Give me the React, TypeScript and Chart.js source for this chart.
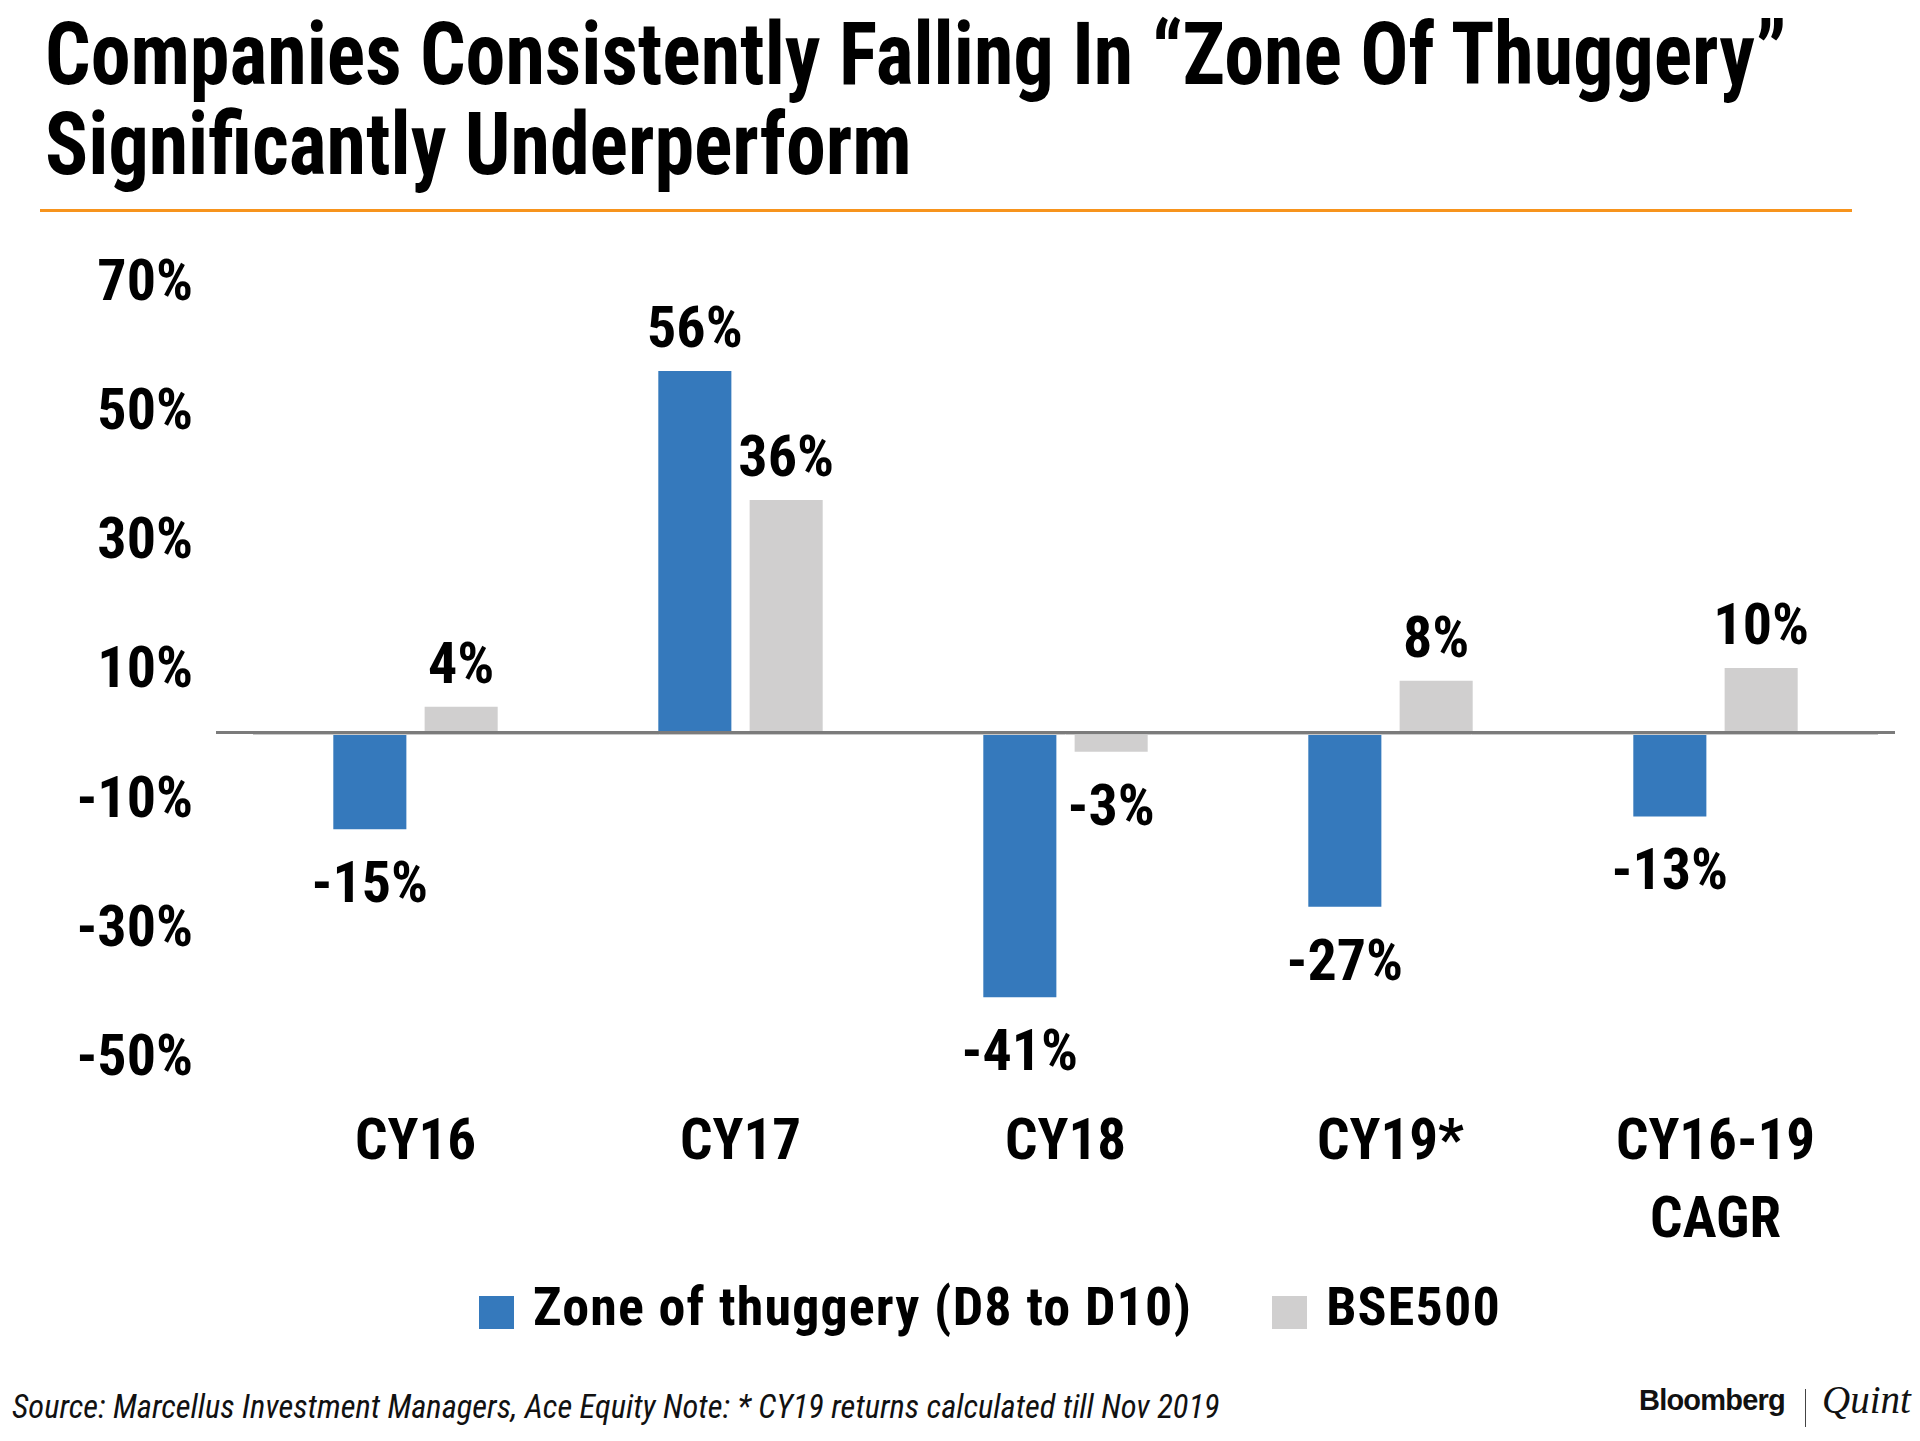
import React, { useEffect, useRef } from "react";
import { Chart, registerables } from "chart.js";

Chart.register(...registerables);

const titleLines = [
  "Companies Consistently Falling In \u201cZone Of Thuggery\u201d",
  "Significantly Underperform",
];
const categories: (string | string[])[] = ["CY16", "CY17", "CY18", "CY19*", ["CY16-19", "CAGR"]];
const seriesNames = ["Zone of thuggery (D8 to D10)", "BSE500"];
const zoneValues = [-15, 56, -41, -27, -13];
const bseValues = [4, 36, -3, 8, 10];
const yTickValues = [-50, -30, -10, 10, 30, 50, 70];
const seriesColors = ["#3579BC", "#D0CFCF"];
const sourceText =
  "Source: Marcellus Investment Managers, Ace Equity Note: * CY19 returns calculated till Nov 2019";

const FONT = "'Roboto Condensed', 'Roboto', sans-serif";

const zeroLinePlugin = {
  id: "zeroLine",
  afterDatasetsDraw(chart: any) {
    const { ctx, chartArea, scales } = chart;
    const y0 = scales.y.getPixelForValue(0);
    ctx.save();
    ctx.strokeStyle = "#c9c9c9";
    ctx.lineWidth = 1;
    ctx.beginPath();
    ctx.moveTo(chartArea.left, y0 + 2);
    ctx.lineTo(chartArea.right, y0 + 2);
    ctx.stroke();
    ctx.strokeStyle = "#7b7b7b";
    ctx.lineWidth = 3;
    ctx.beginPath();
    ctx.moveTo(chartArea.left - 37, y0);
    ctx.lineTo(chartArea.right + 17, y0);
    ctx.stroke();
    ctx.restore();
  },
};

const valueLabelPlugin = {
  id: "valueLabels",
  afterDatasetsDraw(chart: any) {
    const { ctx } = chart;
    ctx.save();
    ctx.font = `bold 58px ${FONT}`;
    ctx.fillStyle = "#000";
    ctx.textAlign = "center";
    ctx.textBaseline = "alphabetic";
    chart.data.datasets.forEach((ds: any, di: number) => {
      const meta = chart.getDatasetMeta(di);
      meta.data.forEach((bar: any, i: number) => {
        const v = ds.data[i];
        const text = `${v}%`;
        if (v >= 0) ctx.fillText(text, bar.x, bar.y - 24);
        else ctx.fillText(text, bar.x, bar.y + 73);
      });
    });
    ctx.restore();
  },
};

function zeroPadding(scale: any) {
  scale.paddingTop = 0;
  scale.paddingBottom = 0;
  scale.paddingLeft = 0;
  scale.paddingRight = 0;
}

export default function App() {
  const canvasRef = useRef<HTMLCanvasElement>(null);

  useEffect(() => {
    if (!canvasRef.current) return;
    const chart = new Chart(canvasRef.current, {
      type: "bar",
      data: {
        labels: categories,
        datasets: [
          {
            label: seriesNames[0],
            data: zoneValues,
            backgroundColor: seriesColors[0],
            categoryPercentage: 0.562,
            barPercentage: 0.8,
          },
          {
            label: seriesNames[1],
            data: bseValues,
            backgroundColor: seriesColors[1],
            categoryPercentage: 0.562,
            barPercentage: 0.8,
          },
        ],
      },
      options: {
        animation: false,
        responsive: true,
        maintainAspectRatio: false,
        layout: { padding: { top: 50.65, right: 42, left: 0, bottom: 0 } },
        plugins: {
          legend: { display: false },
          tooltip: { enabled: false },
          title: { display: false },
        },
        scales: {
          x: {
            grid: { display: false, drawTicks: false },
            border: { display: false },
            ticks: {
              padding: 50,
              color: "#000",
              font: { family: FONT, weight: "bold", size: 57, lineHeight: 1.38 },
              maxRotation: 0,
              autoSkip: false,
            },
            afterFit(scale: any) {
              scale.height = 204.75;
              zeroPadding(scale);
            },
          },
          y: {
            min: -50,
            max: 70,
            grid: { display: false, drawTicks: false },
            border: { display: false },
            afterBuildTicks(scale: any) {
              scale.ticks = yTickValues.map((v) => ({ value: v }));
            },
            ticks: {
              padding: 60,
              labelOffset: 5,
              color: "#000",
              font: { family: FONT, weight: "bold", size: 58 },
              callback: (v: any) => `${v}%`,
            },
            afterFit(scale: any) {
              scale.width = 253;
              zeroPadding(scale);
            },
          },
        },
      },
      plugins: [zeroLinePlugin, valueLabelPlugin],
    });
    return () => chart.destroy();
  }, []);

  return (
    <div
      style={{
        position: "absolute",
        left: 0,
        top: 0,
        width: 1920,
        height: 1441,
        background: "#fff",
        overflow: "hidden",
        fontFamily: FONT,
        color: "#000",
      }}
    >
      {titleLines.map((line, i) => (
        <div
          key={i}
          style={{
            position: "absolute",
            left: 45,
            top: 10 + i * 90,
            fontSize: 88,
            lineHeight: "88px",
            fontWeight: 700,
            whiteSpace: "nowrap",
            transform: "scaleX(0.91)",
            transformOrigin: "left top",
          }}
        >
          {line}
        </div>
      ))}
      <div
        style={{
          position: "absolute",
          left: 40,
          top: 209,
          width: 1812,
          height: 3,
          background: "#F7941D",
        }}
      />
      <div style={{ position: "absolute", left: 0, top: 230, width: 1920, height: 1030 }}>
        <canvas ref={canvasRef} />
      </div>
      <div
        style={{
          position: "absolute",
          left: 479,
          top: 1280,
          display: "flex",
          alignItems: "flex-start",
          whiteSpace: "nowrap",
        }}
      >
        {seriesNames.map((name, i) => (
          <div key={name} style={{ display: "flex", alignItems: "flex-start", marginRight: i === 0 ? 80 : 0 }}>
            <div style={{ width: 35, height: 33, marginTop: 16, background: seriesColors[i], marginRight: 19 }} />
            <div style={{ fontSize: 54, lineHeight: "54px", fontWeight: 700, letterSpacing: 1.15 }}>{name}</div>
          </div>
        ))}
      </div>
      <div
        style={{
          position: "absolute",
          left: 12,
          top: 1390,
          fontSize: 32.5,
          lineHeight: "34px",
          fontStyle: "italic",
          fontWeight: 400,
          whiteSpace: "nowrap",
          color: "#111",
        }}
      >
        {sourceText}
      </div>
      <div
        style={{
          position: "absolute",
          left: 1639,
          top: 1384,
          fontFamily: "'Liberation Sans', Arial, sans-serif",
          fontWeight: 700,
          fontSize: 29,
          lineHeight: "32px",
          letterSpacing: -0.8,
          color: "#111",
        }}
      >
        Bloomberg
      </div>
      <div style={{ position: "absolute", left: 1805, top: 1389, width: 1, height: 38, background: "#444" }} />
      <div
        style={{
          position: "absolute",
          left: 1822,
          top: 1380,
          fontFamily: "'Liberation Serif', 'DejaVu Serif', serif",
          fontStyle: "italic",
          fontSize: 39,
          lineHeight: "40px",
          color: "#111",
        }}
      >
        Quint
      </div>
    </div>
  );
}
